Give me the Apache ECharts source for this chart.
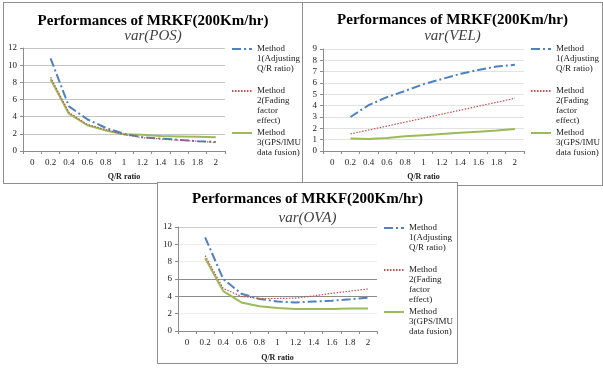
<!DOCTYPE html>
<html>
<head>
<meta charset="utf-8">
<script src="https://cdn.jsdelivr.net/npm/echarts@6/dist/echarts.min.js"></script>
<style>
body { margin: 0; background: #fff; }
.box { position: absolute; border: 1px solid #8f8f8f; background: #fff; }
</style>
</head>
<body>
<div id="chartPos" class="box" style="left:3px;top:2px;width:298px;height:180px;"></div>
<div id="chartVel" class="box" style="left:302px;top:2px;width:299px;height:182px;"></div>
<div id="chartOva" class="box" style="left:157px;top:182px;width:299px;height:180px;"></div>
<script>
// Q/R ratio categories
var ratios = ['0', '0.2', '0.4', '0.6', '0.8', '1', '1.2', '1.4', '1.6', '1.8', '2'];
var methodNames = [
    'Method\n1(Adjusting\nQ/R ratio)',
    'Method\n2(Fading\nfactor\neffect)',
    'Method\n3(GPS/IMU\ndata fusion)'
];
var methodLines = [3, 4, 3];

// var(POS)
var posMethod1 = [null, 10.8, 5.2, 3.7, 2.7, 2.0, 1.6, 1.45, 1.3, 1.15, 1.05];
var posMethod2 = [null, 8.6, 4.5, 3.1, 2.5, 1.9, 1.55, 1.4, 1.25, 1.15, 1.0];
var posMethod3 = [null, 8.35, 4.35, 3.0, 2.4, 1.95, 1.9, 1.75, 1.7, 1.65, 1.6];

// var(VEL)
var velMethod1 = [null, 3.0, 4.05, 4.75, 5.3, 5.9, 6.35, 6.8, 7.15, 7.45, 7.6];
var velMethod2 = [null, 1.5, 1.85, 2.2, 2.55, 2.9, 3.25, 3.6, 3.95, 4.3, 4.65];
var velMethod3 = [null, 1.1, 1.05, 1.15, 1.3, 1.4, 1.5, 1.6, 1.7, 1.8, 1.95];

// var(OVA)
var ovaMethod1 = [null, 10.8, 6.0, 4.3, 3.7, 3.4, 3.3, 3.4, 3.5, 3.65, 3.85];
var ovaMethod2 = [null, 8.7, 4.9, 4.0, 3.75, 3.75, 3.8, 4.05, 4.35, 4.6, 4.85];
var ovaMethod3 = [null, 8.4, 4.6, 3.3, 2.85, 2.65, 2.55, 2.55, 2.55, 2.6, 2.6];

var serif = '"Liberation Serif", "DejaVu Serif", serif';
var lineStyles = [
    { color: '#4f81bd', width: 2, type: [9, 3, 2, 3] },
    { color: '#c0504d', width: 1.2, type: [1.5, 1.5] },
    { color: '#9bbb59', width: 2, type: 'solid' }
];

/*
 * 创建一个图 @param id 容器 @param sub 副标题 @param data 三条线的数据
 * @param cfg 网格、标题、图例的位置
 */
function buildChart(id, sub, data, cfg) {
    var series = [];
    var legends = [];
    for (var i = 0; i < 3; i++) {
        series.push({
            name: methodNames[i],
            type: 'line',
            symbol: 'none',
            lineStyle: lineStyles[i],
            itemStyle: { color: lineStyles[i].color },
            z: i == 0 ? 3 : (i == 1 ? 4 : 2),
            data: data[i]
        });
        var n = methodLines[i];
        // 图例文字顶端对齐：在前面补空行，让第一行和线条同高
        var blank = '';
        for (var k = 1; k < n; k++) {
            blank += ' \n';
        }
        legends.push({
            data: [methodNames[i]],
            left: cfg.legendLeft,
            top: cfg.legendY[i] - (2 * n - 1) * 10 / 2,
            padding: 0,
            itemWidth: 20,
            itemHeight: 8,
            itemGap: 0,
            selectedMode: false,
            itemStyle: { opacity: 0 },
            formatter: (function (pre) {
                return function (name) {
                    return pre + name;
                };
            })(blank),
            textStyle: {
                fontFamily: serif,
                fontSize: 9,
                lineHeight: 10,
                color: '#222'
            }
        });
    }
    var grid = cfg.grid;
    grid.outerBoundsMode = 'none';
    grid.containLabel = false;
    var option = {
        backgroundColor: '#fff',
        animation: false,
        title: [{
            text: 'Performances of MRKF(200Km/hr)',
            left: 'center',
            top: cfg.titleTop,
            padding: 0,
            textStyle: { fontFamily: serif, fontSize: 15, fontWeight: 'bold', color: '#000' }
        }, {
            text: sub,
            left: 'center',
            top: cfg.subTop,
            padding: 0,
            textStyle: { fontFamily: serif, fontSize: 15, fontStyle: 'italic', fontWeight: 'normal', color: '#404040' }
        }],
        legend: legends,
        grid: grid,
        xAxis: {
            type: 'category',
            data: ratios,
            name: 'Q/R ratio',
            nameLocation: 'middle',
            nameGap: cfg.nameGap,
            nameTextStyle: { fontFamily: serif, fontSize: 8, fontWeight: 'bold', color: '#222' },
            axisLine: { lineStyle: { color: '#8c8c8c' } },
            axisTick: { show: true, length: 3, lineStyle: { color: '#8c8c8c' } },
            axisLabel: { fontFamily: serif, fontSize: 9, color: '#222', margin: 7, interval: 0 }
        },
        yAxis: {
            type: 'value',
            min: 0,
            max: cfg.yMax,
            interval: cfg.yStep,
            axisLine: { show: true, lineStyle: { color: '#8c8c8c' } },
            axisTick: { show: true, length: 3, lineStyle: { color: '#8c8c8c' } },
            axisLabel: { fontFamily: serif, fontSize: 9, color: '#222', margin: 6 },
            splitLine: { show: true, lineStyle: { color: cfg.splitColor, width: 1 } }
        },
        series: series
    };
    var chart = echarts.init(document.getElementById(id));
    chart.setOption(option, true);
    return chart;
}

buildChart('chartPos', 'var(POS)', [posMethod1, posMethod2, posMethod3], {
    grid: { left: 19, top: 45, right: 77, bottom: 32 },
    titleTop: 11, subTop: 26, nameGap: 22,
    yMax: 12, yStep: 2,
    splitColor: '#c4c4c4',
    legendLeft: 227, legendY: [46, 88, 130]
});

buildChart('chartVel', 'var(VEL)', [velMethod1, velMethod2, velMethod3], {
    grid: { left: 20, top: 46, right: 78, bottom: 34 },
    titleTop: 10, subTop: 26, nameGap: 22,
    yMax: 9, yStep: 1,
    splitColor: '#e2e2e2',
    legendLeft: 227, legendY: [46, 88, 130]
});

buildChart('chartOva', 'var(OVA)', [ovaMethod1, ovaMethod2, ovaMethod3], {
    grid: { left: 20, top: 44, right: 80, bottom: 32 },
    titleTop: 9, subTop: 28, nameGap: 23,
    yMax: 12, yStep: 2,
    splitColor: ['#ffffff', '#eeeeee', '#8c8c8c', '#8c8c8c', '#eeeeee', '#eeeeee', '#cccccc'],
    legendLeft: 225, legendY: [45, 87, 129]
});
</script>
</body>
</html>
